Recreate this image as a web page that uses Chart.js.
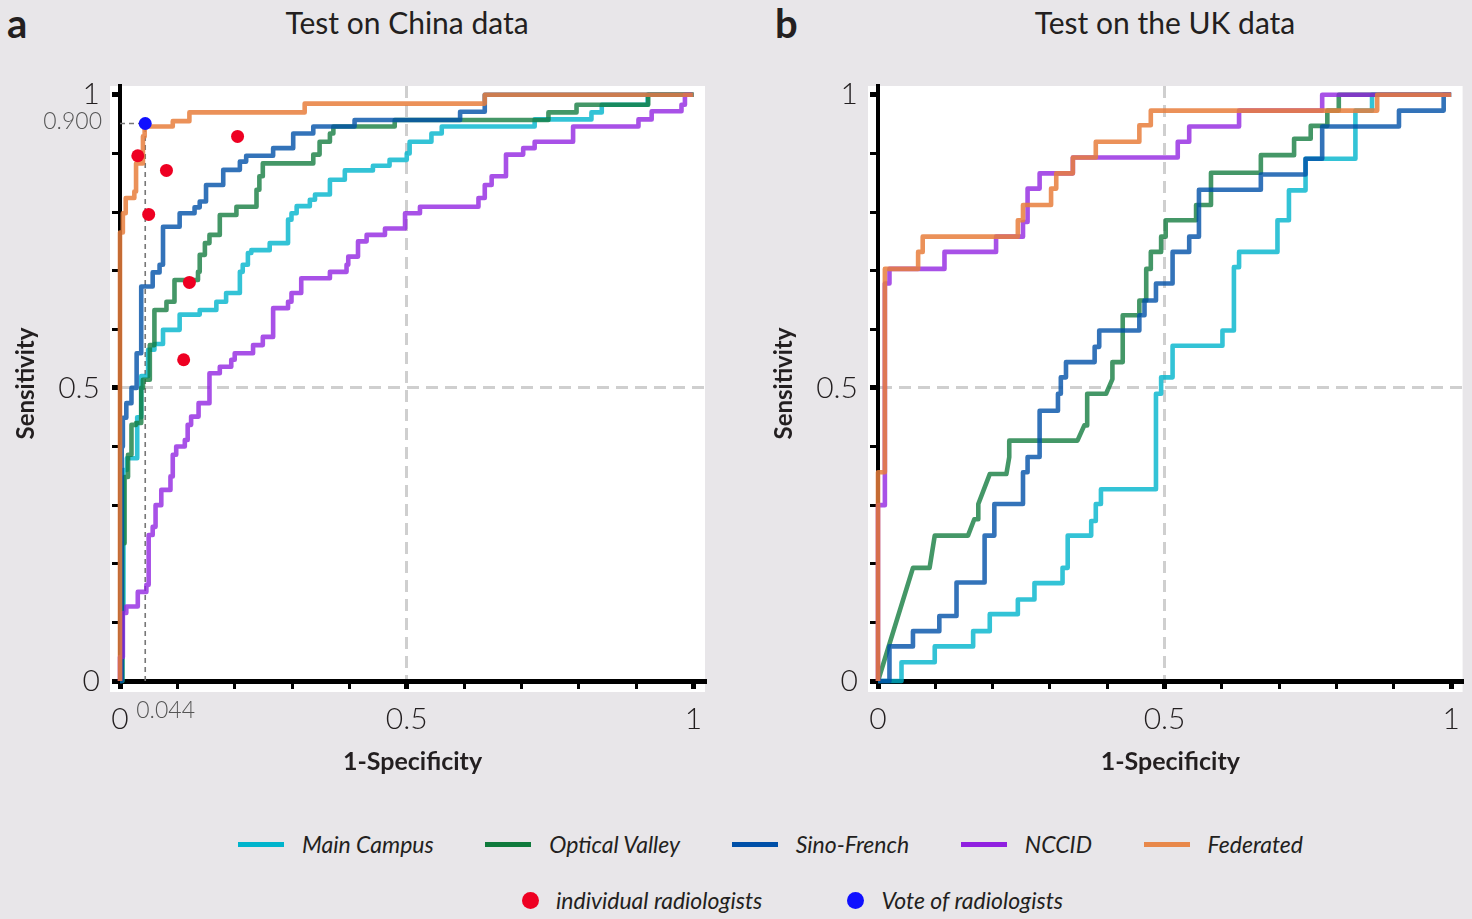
<!DOCTYPE html>
<html>
<head>
<meta charset="utf-8">
<script src="https://cdn.jsdelivr.net/npm/chart.js@4.4.1/dist/chart.umd.min.js"></script>
<style>
  body { margin: 0; background: #e8e6e9; font-family: Lato, "Noto Sans", sans-serif; color: #231f20; }
  #page { position: relative; width: 1472px; height: 919px; overflow: hidden; }
  .tag { position: absolute; top: 3px; font-size: 40px; line-height: 1; font-weight: 700; }
  .title { position: absolute; top: 4px; width: 400px; font-size: 30px; text-align: center; white-space: nowrap; }
  .box { position: absolute; top: 0; height: 800px; }
  .legend { position: absolute; display: flex; justify-content: space-between; align-items: center;
            font-style: italic; font-size: 23px; white-space: nowrap; }
  .item { display: flex; align-items: center; }
  .line { width: 46px; height: 5px; margin-right: 18px; }
  .dot { width: 17px; height: 17px; border-radius: 50%; margin-right: 17px; }
</style>
</head>
<body>
<div id="page">
  <div class="tag" style="left:7px">a</div>
  <div class="title" style="left:207px">Test on China data</div>
  <div class="tag" style="left:775px">b</div>
  <div class="title" style="left:965px">Test on the UK data</div>
  <div class="box" style="left:0;width:736px"><canvas id="chinaChart"></canvas></div>
  <div class="box" style="left:758px;width:714px"><canvas id="ukChart"></canvas></div>
  <div class="legend" id="legendTop" style="left:238px;top:830px;width:1065px"></div>
  <div class="legend" id="legendBottom" style="left:522px;top:886px;width:541px"></div>
</div>
<script>
// ROC curves: [1-specificity, sensitivity] at each rise of the curve
const seriesNames = ["Main Campus", "Optical Valley", "Sino-French", "NCCID", "Federated"];
const legendColors = ["#00b4cc", "#0f7a3c", "#0050a8", "#9020e0", "#e8884a"];
const curveColors = ["rgba(0,180,204,0.8)", "rgba(15,122,60,0.78)", "rgba(0,80,168,0.8)", "rgba(144,32,224,0.78)", "rgba(232,126,60,0.85)"];

const chinaMainCampus = [[0,0],[0.004,0.12],[0.006,0.36],[0.012,0.38],[0.030,0.45],[0.037,0.52],[0.049,0.565],[0.060,0.575],[0.075,0.599],[0.104,0.625],[0.139,0.633],[0.168,0.647],[0.185,0.662],[0.209,0.698],[0.214,0.71],[0.223,0.730],[0.229,0.735],[0.261,0.747],[0.293,0.787],[0.299,0.798],[0.308,0.81],[0.331,0.821],[0.340,0.83],[0.366,0.855],[0.392,0.871],[0.441,0.879],[0.470,0.889],[0.500,0.900],[0.505,0.920],[0.543,0.934],[0.561,0.946],[0.723,0.958],[0.822,0.970],[0.840,0.983],[0.92,1],[1,1]];
const chinaOpticalValley = [[0,0],[0.004,0.235],[0.008,0.348],[0.014,0.386],[0.020,0.437],[0.028,0.44],[0.037,0.50],[0.040,0.514],[0.052,0.573],[0.060,0.633],[0.081,0.647],[0.095,0.684],[0.136,0.698],[0.139,0.727],[0.148,0.747],[0.156,0.761],[0.174,0.795],[0.203,0.809],[0.238,0.838],[0.243,0.861],[0.249,0.883],[0.337,0.898],[0.348,0.920],[0.366,0.934],[0.372,0.946],[0.479,0.957],[0.747,0.970],[0.796,0.983],[0.921,1],[1,1]];
const chinaSinoFrench = [[0,0],[0.003,0.40],[0.005,0.449],[0.011,0.474],[0.020,0.50],[0.029,0.559],[0.037,0.673],[0.057,0.697],[0.069,0.710],[0.075,0.775],[0.104,0.798],[0.130,0.808],[0.139,0.818],[0.150,0.846],[0.180,0.872],[0.209,0.886],[0.220,0.896],[0.267,0.909],[0.302,0.934],[0.337,0.946],[0.409,0.957],[0.593,0.971],[0.636,1],[1,1]];
const chinaNccid = [[0,0],[0,0.041],[0.005,0.116],[0.011,0.127],[0.031,0.152],[0.046,0.164],[0.050,0.249],[0.057,0.263],[0.062,0.300],[0.072,0.326],[0.088,0.349],[0.092,0.386],[0.098,0.40],[0.113,0.411],[0.118,0.437],[0.124,0.451],[0.137,0.474],[0.156,0.525],[0.174,0.536],[0.194,0.548],[0.200,0.559],[0.232,0.573],[0.249,0.587],[0.267,0.636],[0.293,0.647],[0.299,0.662],[0.316,0.687],[0.366,0.698],[0.395,0.710],[0.398,0.724],[0.415,0.750],[0.430,0.761],[0.462,0.772],[0.497,0.798],[0.523,0.809],[0.625,0.824],[0.636,0.846],[0.648,0.861],[0.673,0.898],[0.703,0.909],[0.723,0.920],[0.790,0.946],[0.904,0.958],[0.927,0.972],[0.979,0.983],[0.985,1],[0.997,1]];
const chinaFederated = [[0,0],[0,0.765],[0.005,0.798],[0.010,0.824],[0.025,0.835],[0.028,0.883],[0.040,0.929],[0.043,0.946],[0.092,0.955],[0.121,0.970],[0.322,0.985],[0.636,1],[1,1]];

const ukMainCampus = [[0,0],[0.041,0.032],[0.099,0.059],[0.166,0.085],[0.195,0.114],[0.244,0.139],[0.273,0.167],[0.322,0.193],[0.331,0.248],[0.372,0.273],[0.380,0.302],[0.389,0.327],[0.485,0.490],[0.494,0.518],[0.514,0.572],[0.601,0.598],[0.621,0.706],[0.630,0.732],[0.697,0.786],[0.717,0.837],[0.746,0.891],[0.833,0.973],[0.862,1],[1,1]];
// this one has sloped pieces, so it is given as plain vertices
const ukOpticalValley = [[0,0],[0.061,0.193],[0.090,0.193],[0.099,0.248],[0.157,0.248],[0.168,0.276],[0.175,0.276],[0.175,0.302],[0.195,0.353],[0.224,0.353],[0.229,0.382],[0.229,0.410],[0.348,0.410],[0.360,0.436],[0.365,0.436],[0.365,0.490],[0.398,0.490],[0.409,0.515],[0.409,0.544],[0.427,0.544],[0.427,0.624],[0.456,0.624],[0.456,0.649],[0.468,0.649],[0.468,0.703],[0.476,0.703],[0.476,0.732],[0.494,0.732],[0.494,0.758],[0.502,0.758],[0.502,0.786],[0.555,0.786],[0.555,0.812],[0.581,0.812],[0.581,0.867],[0.668,0.867],[0.668,0.897],[0.726,0.897],[0.726,0.925],[0.755,0.925],[0.755,0.947],[0.784,0.947],[0.784,0.973],[0.804,0.973],[0.804,1],[1,1]];
const ukSinoFrench = [[0,0],[0.020,0.059],[0.061,0.085],[0.107,0.111],[0.137,0.168],[0.186,0.248],[0.203,0.302],[0.253,0.356],[0.261,0.382],[0.282,0.461],[0.314,0.490],[0.319,0.518],[0.328,0.544],[0.378,0.570],[0.386,0.598],[0.456,0.624],[0.465,0.649],[0.485,0.678],[0.514,0.732],[0.543,0.758],[0.560,0.838],[0.668,0.864],[0.746,0.891],[0.775,0.946],[0.909,0.973],[0.987,1],[1,1]];
const ukNccid = [[0,0],[0,0.30],[0.012,0.678],[0.020,0.703],[0.116,0.732],[0.206,0.758],[0.253,0.783],[0.261,0.840],[0.282,0.866],[0.340,0.893],[0.523,0.920],[0.543,0.946],[0.630,0.973],[0.775,1],[1,1]];
const ukFederated = [[0,0],[0,0.356],[0.012,0.703],[0.070,0.732],[0.078,0.758],[0.244,0.786],[0.253,0.812],[0.302,0.840],[0.311,0.866],[0.340,0.893],[0.380,0.920],[0.456,0.948],[0.476,0.973],[0.871,1],[1,1]];
const ukStepped = [true, false, true, true, true];

const radiologistPoints = [[0.031,0.896],[0.081,0.871],[0.050,0.796],[0.205,0.929],[0.121,0.680],[0.111,0.548]];
const votePoint = [0.044, 0.951];
const voteLabels = ["0.900", "0.044"];
const dotNames = ["individual radiologists", "Vote of radiologists"];
const dotColors = ["#ee0022", "#1010ff"];

const tickValues = [0, 0.1, 0.2, 0.3, 0.4, 0.5, 0.6, 0.7, 0.8, 0.9, 1];
const labelledTicks = [0, 0.5, 1];

const toXY = (pts) => pts.map((p) => ({ x: p[0], y: p[1] }));

const panelBackground = {
  id: "panelBackground",
  beforeDraw(chart) {
    const { ctx, chartArea: a } = chart;
    ctx.save();
    ctx.fillStyle = "#ffffff";
    ctx.fillRect(a.left - 10, a.top, a.right - a.left + 10, a.bottom - a.top + 11);
    ctx.restore();
  },
};

const voteText = {
  id: "voteText",
  afterDraw(chart) {
    if (!chart.options.plugins.voteText.show) return;
    const { ctx, scales } = chart;
    const px = scales.x.getPixelForValue(votePoint[0]);
    const py = scales.y.getPixelForValue(votePoint[1]);
    ctx.save();
    ctx.fillStyle = "#555";
    ctx.font = "300 23px Lato";
    ctx.textAlign = "right";
    ctx.textBaseline = "middle";
    ctx.fillText(voteLabels[0], chart.chartArea.left - 18, py - 2);
    ctx.textAlign = "left";
    ctx.textBaseline = "top";
    ctx.fillText(voteLabels[1], px - 9, chart.chartArea.bottom + 18);
    ctx.restore();
  },
};

function axis(title, isX, padTitle) {
  return {
    type: "linear",
    min: 0,
    max: isX ? 1.02 : 1.015,
    afterBuildTicks: (s) => { s.ticks = tickValues.map((v) => ({ value: v })); },
    afterFit: (s) => { if (isX) s.height = 119; else s.width = 120; },
    ticks: {
      autoSkip: false,
      maxRotation: 0,
      padding: 12,
      color: "#231f20",
      font: { family: "Lato", size: 30, weight: "300" },
      callback: (v) => (labelledTicks.includes(v) ? String(v) : ""),
    },
    grid: {
      drawOnChartArea: true,
      color: (c) => (c.tick && c.tick.value === 0.5 ? "#cfcfcf" : "rgba(0,0,0,0)"),
      lineWidth: 3,
      tickLength: 8,
      tickColor: "#000",
      tickWidth: (c) => (c.tick && labelledTicks.includes(c.tick.value) ? 5 : 3),
    },
    border: { display: true, color: "#000", width: isX ? 5 : 4, dash: [12, 7] },
    title: {
      display: true,
      text: title,
      color: "#231f20",
      font: { family: "Lato", size: isX ? 25 : 24, weight: "bold" },
      padding: isX ? { top: 0, bottom: padTitle } : { top: padTitle, bottom: 0 },
    },
  };
}

function curveSets(curves, stepped) {
  // later entries sit on top
  return curves.map((pts, i) => ({
    data: toXY(pts),
    borderColor: curveColors[i],
    borderWidth: 4.6,
    pointRadius: 0,
    stepped: stepped[i] ? "before" : false,
    borderJoinStyle: "round",
    clip: false,
    order: 10 - i,
  }));
}

function makeChart(id, datasets, padRight, showVote) {
  return new Chart(document.getElementById(id), {
    type: "line",
    data: { datasets },
    options: {
      responsive: true,
      maintainAspectRatio: false,
      animation: false,
      layout: { padding: { top: 86, right: padRight, left: 0, bottom: 0 } },
      scales: {
        x: axis("1-Specificity", true, 23),
        y: axis("Sensitivity", false, 12),
      },
      plugins: {
        legend: { display: false },
        tooltip: { enabled: false },
        voteText: { show: showVote },
      },
    },
    plugins: [panelBackground, voteText],
  });
}

const guideStyle = { borderColor: "#777", borderWidth: 1.6, borderDash: [5, 4], pointRadius: 0, order: 20, clip: false };

const chinaSets = [
  { ...guideStyle, data: toXY([[votePoint[0], 0], votePoint]) },
  { ...guideStyle, data: toXY([[0, votePoint[1]], votePoint]) },
  ...curveSets([chinaMainCampus, chinaOpticalValley, chinaSinoFrench, chinaNccid, chinaFederated], [true, true, true, true, true]),
  { data: toXY(radiologistPoints), showLine: false, pointRadius: 6.5, pointBackgroundColor: dotColors[0], pointBorderWidth: 0, order: 1 },
  { data: toXY([votePoint]), showLine: false, pointRadius: 6.5, pointBackgroundColor: dotColors[1], pointBorderWidth: 0, order: 0 },
];
const ukSets = curveSets([ukMainCampus, ukOpticalValley, ukSinoFrench, ukNccid, ukFederated], ukStepped);

makeChart("chinaChart", chinaSets, 31, true);
makeChart("ukChart", ukSets, 9, false);

// legend built from the same names/colours
const legendTop = document.getElementById("legendTop");
seriesNames.forEach((name, i) => {
  legendTop.insertAdjacentHTML("beforeend",
    `<div class="item"><span class="line" style="background:${legendColors[i]}"></span>${name}</div>`);
});
const legendBottom = document.getElementById("legendBottom");
dotNames.forEach((name, i) => {
  legendBottom.insertAdjacentHTML("beforeend",
    `<div class="item"><span class="dot" style="background:${dotColors[i]}"></span>${name}</div>`);
});
</script>
</body>
</html>
